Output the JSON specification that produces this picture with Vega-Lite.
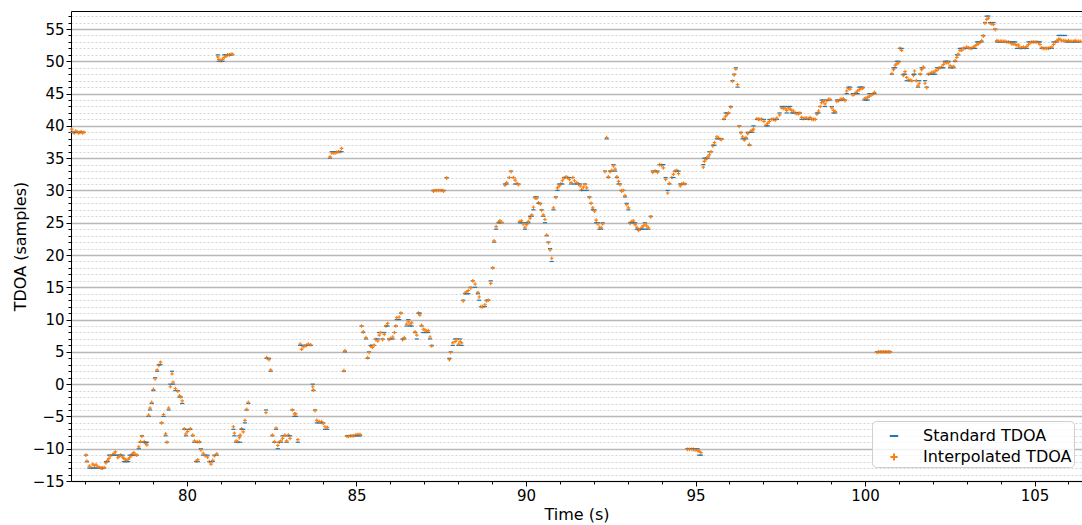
{
"$schema": "https://vega.github.io/schema/vega-lite/v6.json",
"width": 1011, "height": 470,
"autosize": {"type": "none"},
"padding": {"left": 71, "top": 11, "right": 0, "bottom": 44},
"background": "white",
"config": {
 "font": "DejaVu Sans",
 "view": {"stroke": null},
 "axis": {"labelFont": "DejaVu Sans", "labelFontSize": 15, "labelColor": "black", "titleFont": "DejaVu Sans", "titleFontSize": 16, "titleFontWeight": "normal", "titleColor": "black", "tickColor": "black", "domainColor": "black", "tickWidth": 1, "domainWidth": 1},
 "legend": {"labelFont": "DejaVu Sans"}
},
"data": {"values": [
{"t":76.60,"s":39,"i":39.5},{"t":76.64,"s":39,"i":39.0},{"t":76.68,"s":39,"i":38.9},{"t":76.72,"s":39,"i":39.2},{"t":76.76,"s":39,"i":39.1},{"t":76.80,"s":39,"i":38.9},{"t":76.84,"s":39,"i":39.0},{"t":76.88,"s":39,"i":39.1},{"t":76.92,"s":39,"i":38.9},{"t":76.96,"s":39,"i":39.0},
{"t":77.02,"s":-11,"i":-11.0},{"t":77.05,"s":-12,"i":-11.9},{"t":77.12,"s":-13,"i":-12.7},{"t":77.17,"s":-13,"i":-12.9},{"t":77.22,"s":-13,"i":-12.4},{"t":77.27,"s":-13,"i":-12.6},{"t":77.32,"s":-13,"i":-12.5},{"t":77.37,"s":-13,"i":-12.8},{"t":77.42,"s":-13,"i":-12.9},{"t":77.47,"s":-13,"i":-13.0},{"t":77.51,"s":-13,"i":-13.0},{"t":77.56,"s":-13,"i":-12.9},{"t":77.61,"s":-12,"i":-12.2},{"t":77.66,"s":-12,"i":-11.8},{"t":77.70,"s":-11,"i":-11.5},{"t":77.74,"s":-11,"i":-11.1},{"t":77.81,"s":-11,"i":-10.9},{"t":77.85,"s":-11,"i":-10.7},{"t":77.89,"s":-11,"i":-10.5},{"t":77.96,"s":-11,"i":-11.4},{"t":78.00,"s":-11,"i":-11.2},{"t":78.04,"s":-11,"i":-11.0},{"t":78.10,"s":-11,"i":-11.3},{"t":78.14,"s":-12,"i":-11.5},{"t":78.18,"s":-12,"i":-11.7},{"t":78.22,"s":-12,"i":-11.8},{"t":78.27,"s":-12,"i":-11.6},{"t":78.31,"s":-11,"i":-11.4},{"t":78.35,"s":-11,"i":-11.1},{"t":78.39,"s":-11,"i":-10.8},{"t":78.43,"s":-11,"i":-10.6},{"t":78.47,"s":-11,"i":-10.9},{"t":78.52,"s":-11,"i":-11.0},{"t":78.58,"s":-10,"i":-9.7},{"t":78.63,"s":-9,"i":-8.9},{"t":78.67,"s":-8,"i":-8.1},{"t":78.74,"s":-9,"i":-8.9},{"t":78.78,"s":-9,"i":-9.2},{"t":78.82,"s":-9,"i":-9.4},{"t":78.87,"s":-5,"i":-4.8},{"t":78.91,"s":-4,"i":-3.7},{"t":78.96,"s":-3,"i":-2.8},{"t":79.01,"s":-1,"i":-0.8},{"t":79.06,"s":1,"i":0.8},{"t":79.12,"s":2,"i":2.2},{"t":79.17,"s":3,"i":2.9},{"t":79.22,"s":3,"i":3.4},{"t":79.25,"s":-6,"i":-6.0},{"t":79.31,"s":-5,"i":-4.7},{"t":79.37,"s":-8,"i":-7.7},{"t":79.41,"s":-9,"i":-9.0},{"t":79.46,"s":-4,"i":-3.7},{"t":79.51,"s":0,"i":-0.4},{"t":79.56,"s":2,"i":1.6},{"t":79.59,"s":0,"i":0.3},{"t":79.66,"s":-1,"i":-0.7},{"t":79.73,"s":-1,"i":-1.1},{"t":79.78,"s":-2,"i":-1.8},{"t":79.82,"s":-2,"i":-2.0},{"t":79.86,"s":-3,"i":-2.6},{"t":79.92,"s":-7,"i":-6.9},{"t":79.97,"s":-8,"i":-7.7},{"t":80.02,"s":-7,"i":-7.3},{"t":80.10,"s":-7,"i":-6.9},{"t":80.17,"s":-8,"i":-7.9},{"t":80.22,"s":-9,"i":-8.8},{"t":80.27,"s":-12,"i":-11.9},{"t":80.30,"s":-9,"i":-8.9},{"t":80.32,"s":-12,"i":-11.7},{"t":80.37,"s":-9,"i":-8.9},{"t":80.41,"s":-10,"i":-10.2},{"t":80.48,"s":-11,"i":-10.7},{"t":80.54,"s":-11,"i":-11.1},{"t":80.61,"s":-11,"i":-11.3},{"t":80.66,"s":-12,"i":-12.0},{"t":80.71,"s":-12,"i":-12.4},{"t":80.76,"s":-12,"i":-11.8},{"t":80.81,"s":-11,"i":-11.1},{"t":80.88,"s":-11,"i":-10.8},
{"t":80.91,"s":51,"i":50.7},{"t":80.94,"s":50,"i":50.3},{"t":81.00,"s":50,"i":50.1},{"t":81.05,"s":50,"i":50.3},{"t":81.10,"s":51,"i":50.6},{"t":81.15,"s":51,"i":50.8},{"t":81.20,"s":51,"i":51.0},{"t":81.25,"s":51,"i":51.0},{"t":81.30,"s":51,"i":51.1},{"t":81.34,"s":51,"i":51.1},
{"t":81.37,"s":-7,"i":-6.6},{"t":81.40,"s":-8,"i":-7.6},{"t":81.45,"s":-9,"i":-8.8},{"t":81.50,"s":-9,"i":-8.9},{"t":81.55,"s":-8,"i":-8.3},{"t":81.57,"s":-9,"i":-7.9},{"t":81.61,"s":-7,"i":-6.9},{"t":81.66,"s":-7,"i":-7.4},{"t":81.71,"s":-6,"i":-5.6},{"t":81.76,"s":-4,"i":-3.9},{"t":81.81,"s":-3,"i":-2.8},
{"t":82.33,"s":-4,"i":-4.4},{"t":82.35,"s":4,"i":4.1},{"t":82.42,"s":4,"i":3.8},{"t":82.47,"s":2,"i":2.2},{"t":82.52,"s":-8,"i":-7.9},{"t":82.58,"s":-9,"i":-8.9},{"t":82.63,"s":-7,"i":-6.8},{"t":82.68,"s":-10,"i":-9.5},{"t":82.72,"s":-9,"i":-9.0},{"t":82.77,"s":-9,"i":-8.8},{"t":82.82,"s":-8,"i":-8.4},{"t":82.89,"s":-8,"i":-7.9},{"t":82.94,"s":-9,"i":-8.8},{"t":82.99,"s":-8,"i":-7.9},{"t":83.04,"s":-8,"i":-8.4},{"t":83.11,"s":-4,"i":-4.0},{"t":83.17,"s":-5,"i":-4.6},{"t":83.21,"s":-5,"i":-4.6},{"t":83.27,"s":-9,"i":-8.6},
{"t":83.34,"s":6,"i":6.2},{"t":83.38,"s":6,"i":5.4},{"t":83.43,"s":6,"i":5.8},{"t":83.48,"s":6,"i":5.9},{"t":83.53,"s":6,"i":6.0},{"t":83.58,"s":6,"i":6.2},{"t":83.65,"s":6,"i":6.1},{"t":83.71,"s":0,"i":-0.4},{"t":83.73,"s":-1,"i":-0.9},{"t":83.78,"s":-4,"i":-4.1},{"t":83.83,"s":-6,"i":-5.6},{"t":83.90,"s":-6,"i":-5.8},{"t":83.97,"s":-6,"i":-5.8},{"t":84.02,"s":-6,"i":-6.1},{"t":84.07,"s":-7,"i":-6.6},{"t":84.14,"s":-7,"i":-6.7},
{"t":84.22,"s":35,"i":35.2},{"t":84.27,"s":36,"i":35.8},{"t":84.32,"s":36,"i":35.8},{"t":84.37,"s":36,"i":35.8},{"t":84.42,"s":36,"i":35.9},{"t":84.47,"s":36,"i":36.0},{"t":84.52,"s":36,"i":36.0},{"t":84.56,"s":36,"i":36.5},
{"t":84.63,"s":2,"i":2.1},{"t":84.66,"s":5,"i":5.2},{"t":84.72,"s":-8,"i":-8.1},{"t":84.77,"s":-8,"i":-8.1},{"t":84.82,"s":-8,"i":-8.0},{"t":84.87,"s":-8,"i":-8.0},{"t":84.92,"s":-8,"i":-8.0},{"t":84.97,"s":-8,"i":-7.9},{"t":85.02,"s":-8,"i":-7.8},{"t":85.07,"s":-8,"i":-7.8},{"t":85.11,"s":-8,"i":-7.8},
{"t":85.15,"s":9,"i":9.0},{"t":85.20,"s":8,"i":8.1},{"t":85.28,"s":7,"i":7.2},{"t":85.33,"s":4,"i":4.1},{"t":85.37,"s":5,"i":4.9},{"t":85.42,"s":6,"i":5.9},{"t":85.47,"s":6,"i":5.7},{"t":85.52,"s":6,"i":6.0},{"t":85.57,"s":7,"i":6.9},{"t":85.63,"s":7,"i":6.7},{"t":85.67,"s":8,"i":7.6},{"t":85.72,"s":8,"i":8.0},{"t":85.77,"s":7,"i":6.9},{"t":85.82,"s":8,"i":7.7},{"t":85.87,"s":9,"i":9.0},{"t":85.92,"s":9,"i":9.4},{"t":85.96,"s":7,"i":6.9},{"t":86.01,"s":7,"i":7.1},{"t":86.07,"s":7,"i":7.3},{"t":86.12,"s":8,"i":8.0},{"t":86.16,"s":9,"i":9.0},{"t":86.19,"s":10,"i":10.3},{"t":86.26,"s":10,"i":10.4},{"t":86.31,"s":11,"i":11.0},{"t":86.36,"s":7,"i":6.9},{"t":86.41,"s":7,"i":7.2},{"t":86.48,"s":9,"i":9.3},{"t":86.53,"s":10,"i":9.7},{"t":86.58,"s":9,"i":9.3},{"t":86.63,"s":9,"i":9.5},{"t":86.73,"s":8,"i":8.1},{"t":86.78,"s":7,"i":7.6},{"t":86.83,"s":11,"i":11.0},{"t":86.87,"s":11,"i":10.7},{"t":86.92,"s":9,"i":9.1},{"t":86.97,"s":8,"i":8.5},{"t":87.02,"s":8,"i":8.4},{"t":87.07,"s":8,"i":8.2},{"t":87.12,"s":8,"i":8.3},{"t":87.17,"s":7,"i":7.3},{"t":87.22,"s":6,"i":5.9},
{"t":87.27,"s":30,"i":29.9},{"t":87.32,"s":30,"i":30.0},{"t":87.37,"s":30,"i":30.0},{"t":87.42,"s":30,"i":30.0},{"t":87.47,"s":30,"i":30.0},{"t":87.52,"s":30,"i":30.0},{"t":87.57,"s":30,"i":29.9},{"t":87.66,"s":32,"i":31.9},
{"t":87.74,"s":4,"i":3.8},{"t":87.78,"s":5,"i":4.9},{"t":87.84,"s":6,"i":6.4},{"t":87.91,"s":7,"i":6.6},{"t":87.96,"s":7,"i":6.9},{"t":88.01,"s":6,"i":6.2},{"t":88.06,"s":7,"i":6.6},{"t":88.10,"s":6,"i":6.4},
{"t":88.15,"s":13,"i":12.9},{"t":88.20,"s":14,"i":14.1},{"t":88.25,"s":14,"i":14.3},{"t":88.30,"s":14,"i":14.5},{"t":88.37,"s":15,"i":14.9},{"t":88.43,"s":16,"i":16.0},{"t":88.50,"s":15,"i":15.5},{"t":88.58,"s":14,"i":14.2},{"t":88.62,"s":13,"i":13.5},{"t":88.67,"s":12,"i":12.0},{"t":88.72,"s":12,"i":12.0},{"t":88.79,"s":12,"i":12.3},{"t":88.84,"s":13,"i":12.9},{"t":88.89,"s":13,"i":13.0},{"t":88.96,"s":16,"i":15.6},{"t":89.02,"s":18,"i":18.0},{"t":89.06,"s":22,"i":22.2},{"t":89.12,"s":24,"i":24.4},{"t":89.19,"s":25,"i":25.1},{"t":89.23,"s":25,"i":25.3},{"t":89.28,"s":25,"i":25.1},
{"t":89.38,"s":31,"i":30.8},{"t":89.43,"s":31,"i":31.2},{"t":89.51,"s":32,"i":32.0},{"t":89.56,"s":33,"i":32.9},{"t":89.63,"s":32,"i":32.0},{"t":89.68,"s":31,"i":31.6},{"t":89.73,"s":31,"i":31.1},{"t":89.78,"s":31,"i":30.9},
{"t":89.82,"s":25,"i":25.2},{"t":89.87,"s":25,"i":25.3},{"t":89.92,"s":25,"i":24.8},{"t":89.97,"s":24,"i":24.3},{"t":90.02,"s":25,"i":24.7},{"t":90.07,"s":25,"i":25.2},{"t":90.12,"s":26,"i":25.7},{"t":90.17,"s":26,"i":26.2},{"t":90.22,"s":27,"i":27.4},{"t":90.27,"s":29,"i":28.8},{"t":90.32,"s":29,"i":28.8},{"t":90.37,"s":28,"i":28.1},{"t":90.42,"s":28,"i":27.9},{"t":90.46,"s":27,"i":26.9},{"t":90.51,"s":26,"i":26.2},{"t":90.56,"s":25,"i":25.5},{"t":90.61,"s":23,"i":23.1},{"t":90.66,"s":22,"i":21.9},{"t":90.71,"s":21,"i":20.8},{"t":90.76,"s":19,"i":19.5},
{"t":90.81,"s":27,"i":27.3},{"t":90.88,"s":29,"i":28.9},{"t":90.93,"s":30,"i":30.4},{"t":90.98,"s":31,"i":30.7},{"t":91.02,"s":31,"i":31.0},{"t":91.07,"s":31,"i":31.5},{"t":91.12,"s":32,"i":31.9},{"t":91.18,"s":32,"i":32.1},{"t":91.23,"s":32,"i":32.0},{"t":91.28,"s":32,"i":31.7},{"t":91.33,"s":31,"i":31.2},{"t":91.38,"s":32,"i":32.0},{"t":91.43,"s":31,"i":31.5},{"t":91.50,"s":31,"i":31.2},{"t":91.55,"s":31,"i":31.0},{"t":91.60,"s":31,"i":30.7},{"t":91.64,"s":30,"i":30.1},{"t":91.69,"s":30,"i":30.5},{"t":91.74,"s":31,"i":30.9},{"t":91.79,"s":30,"i":30.4},{"t":91.87,"s":29,"i":28.9},{"t":91.92,"s":28,"i":28.0},{"t":91.97,"s":27,"i":27.3},{"t":92.02,"s":27,"i":26.8},{"t":92.07,"s":25,"i":25.4},{"t":92.12,"s":25,"i":24.8},{"t":92.17,"s":24,"i":24.3},{"t":92.22,"s":24,"i":24.2},{"t":92.26,"s":25,"i":24.8},
{"t":92.33,"s":33,"i":32.9},{"t":92.38,"s":38,"i":38.2},{"t":92.43,"s":32,"i":32.1},{"t":92.48,"s":33,"i":32.9},{"t":92.53,"s":33,"i":33.1},{"t":92.58,"s":34,"i":33.8},{"t":92.63,"s":33,"i":33.3},{"t":92.68,"s":32,"i":32.1},{"t":92.73,"s":31,"i":31.4},{"t":92.77,"s":31,"i":30.9},{"t":92.82,"s":30,"i":29.9},{"t":92.87,"s":30,"i":30.0},{"t":92.92,"s":29,"i":29.2},{"t":92.97,"s":28,"i":27.8},{"t":93.02,"s":27,"i":27.3},{"t":93.07,"s":25,"i":24.9},{"t":93.12,"s":25,"i":25.2},{"t":93.17,"s":25,"i":25.3},{"t":93.22,"s":25,"i":24.7},{"t":93.27,"s":24,"i":24.3},{"t":93.32,"s":24,"i":23.8},{"t":93.37,"s":24,"i":24.0},{"t":93.42,"s":24,"i":24.3},{"t":93.46,"s":24,"i":24.5},{"t":93.51,"s":25,"i":24.8},{"t":93.56,"s":24,"i":24.5},{"t":93.61,"s":24,"i":24.2},{"t":93.68,"s":26,"i":25.9},
{"t":93.74,"s":33,"i":32.8},{"t":93.81,"s":33,"i":33.0},{"t":93.88,"s":33,"i":32.8},{"t":93.94,"s":34,"i":34.0},{"t":94.00,"s":34,"i":33.9},{"t":94.05,"s":34,"i":33.5},{"t":94.12,"s":32,"i":31.7},{"t":94.18,"s":30,"i":29.6},{"t":94.23,"s":31,"i":31.1},{"t":94.30,"s":32,"i":32.0},{"t":94.35,"s":32,"i":32.5},{"t":94.40,"s":33,"i":33.0},{"t":94.45,"s":33,"i":33.1},{"t":94.50,"s":33,"i":32.6},{"t":94.55,"s":31,"i":30.7},{"t":94.59,"s":31,"i":31.0},{"t":94.64,"s":31,"i":31.1},{"t":94.69,"s":31,"i":31.0},
{"t":94.76,"s":-10,"i":-10.1},{"t":94.82,"s":-10,"i":-10.1},{"t":94.89,"s":-10,"i":-10.1},{"t":94.94,"s":-10,"i":-10.1},{"t":94.99,"s":-10,"i":-10.2},{"t":95.06,"s":-10,"i":-10.3},{"t":95.11,"s":-11,"i":-10.4},{"t":95.16,"s":-11,"i":-10.6},
{"t":95.23,"s":34,"i":33.6},{"t":95.26,"s":35,"i":34.5},{"t":95.31,"s":35,"i":34.8},{"t":95.36,"s":35,"i":35.2},{"t":95.41,"s":36,"i":35.5},{"t":95.46,"s":36,"i":36.0},{"t":95.51,"s":37,"i":36.9},{"t":95.56,"s":37,"i":37.4},{"t":95.63,"s":38,"i":38.3},{"t":95.68,"s":38,"i":38.1},{"t":95.73,"s":38,"i":37.9},{"t":95.77,"s":38,"i":37.9},{"t":95.84,"s":41,"i":41.1},{"t":95.89,"s":42,"i":41.5},{"t":95.94,"s":42,"i":41.8},{"t":95.97,"s":42,"i":42.0},{"t":96.04,"s":43,"i":42.9},{"t":96.09,"s":47,"i":46.9},{"t":96.14,"s":48,"i":47.9},{"t":96.19,"s":49,"i":48.8},{"t":96.24,"s":46,"i":46.4},{"t":96.29,"s":40,"i":39.9},{"t":96.34,"s":39,"i":38.9},{"t":96.39,"s":38,"i":38.3},{"t":96.44,"s":38,"i":37.8},{"t":96.49,"s":38,"i":38.2},{"t":96.54,"s":39,"i":38.8},{"t":96.59,"s":37,"i":37.1},{"t":96.63,"s":39,"i":39.2},{"t":96.68,"s":39,"i":39.3},{"t":96.71,"s":40,"i":39.5},
{"t":96.81,"s":41,"i":41.1},{"t":96.86,"s":41,"i":41.0},{"t":96.90,"s":41,"i":41.0},{"t":96.95,"s":41,"i":41.0},{"t":97.02,"s":41,"i":40.7},{"t":97.08,"s":40,"i":40.1},{"t":97.13,"s":40,"i":40.4},{"t":97.18,"s":41,"i":40.7},{"t":97.25,"s":41,"i":41.0},{"t":97.30,"s":41,"i":41.0},{"t":97.35,"s":41,"i":40.9},{"t":97.40,"s":41,"i":41.2},{"t":97.48,"s":42,"i":41.7},{"t":97.54,"s":43,"i":42.8},{"t":97.59,"s":43,"i":42.7},{"t":97.64,"s":43,"i":42.7},{"t":97.69,"s":42,"i":42.4},{"t":97.74,"s":43,"i":42.8},{"t":97.79,"s":43,"i":42.6},{"t":97.84,"s":42,"i":42.4},{"t":97.89,"s":42,"i":42.3},{"t":97.94,"s":42,"i":42.0},{"t":97.99,"s":42,"i":41.9},{"t":98.04,"s":42,"i":41.9},{"t":98.08,"s":42,"i":42.0},{"t":98.13,"s":41,"i":41.3},{"t":98.18,"s":41,"i":41.1},{"t":98.23,"s":41,"i":41.2},{"t":98.28,"s":41,"i":41.2},{"t":98.33,"s":41,"i":41.1},{"t":98.38,"s":41,"i":41.3},{"t":98.43,"s":41,"i":41.0},{"t":98.48,"s":41,"i":41.0},{"t":98.53,"s":41,"i":41.0},{"t":98.58,"s":42,"i":41.8},{"t":98.63,"s":42,"i":42.3},{"t":98.68,"s":43,"i":43.0},{"t":98.72,"s":44,"i":43.6},{"t":98.77,"s":44,"i":43.8},{"t":98.82,"s":43,"i":43.4},{"t":98.87,"s":44,"i":43.9},{"t":98.92,"s":44,"i":44.1},{"t":98.97,"s":44,"i":44.1},{"t":99.02,"s":43,"i":42.8},{"t":99.07,"s":42,"i":42.4},{"t":99.12,"s":42,"i":42.2},{"t":99.17,"s":44,"i":43.8},{"t":99.22,"s":44,"i":43.9},{"t":99.27,"s":44,"i":44.1},{"t":99.31,"s":44,"i":44.1},{"t":99.36,"s":44,"i":44.2},{"t":99.41,"s":44,"i":43.9},{"t":99.46,"s":45,"i":45.4},{"t":99.51,"s":46,"i":45.8},{"t":99.56,"s":46,"i":45.7},{"t":99.64,"s":45,"i":44.8},{"t":99.68,"s":45,"i":44.9},{"t":99.74,"s":45,"i":45.2},{"t":99.78,"s":45,"i":45.4},{"t":99.83,"s":46,"i":45.6},{"t":99.88,"s":46,"i":45.8},{"t":99.93,"s":46,"i":45.8},{"t":99.98,"s":44,"i":44.2},{"t":100.03,"s":44,"i":44.3},{"t":100.08,"s":44,"i":44.4},{"t":100.13,"s":45,"i":44.6},{"t":100.18,"s":45,"i":44.8},{"t":100.23,"s":45,"i":44.9},{"t":100.28,"s":45,"i":45.2},
{"t":100.35,"s":5,"i":4.9},{"t":100.40,"s":5,"i":5.0},{"t":100.45,"s":5,"i":5.0},{"t":100.50,"s":5,"i":5.0},{"t":100.55,"s":5,"i":5.0},{"t":100.60,"s":5,"i":5.0},{"t":100.65,"s":5,"i":5.0},{"t":100.70,"s":5,"i":5.0},{"t":100.74,"s":5,"i":5.0},
{"t":100.79,"s":48,"i":48.1},{"t":100.84,"s":49,"i":48.7},{"t":100.89,"s":49,"i":49.4},{"t":100.94,"s":50,"i":49.6},{"t":100.99,"s":50,"i":49.8},{"t":101.03,"s":52,"i":52.0},{"t":101.08,"s":52,"i":51.7},{"t":101.13,"s":48,"i":47.8},{"t":101.18,"s":48,"i":48.4},{"t":101.23,"s":47,"i":47.5},{"t":101.28,"s":47,"i":47.1},{"t":101.33,"s":47,"i":47.1},{"t":101.38,"s":47,"i":47.0},{"t":101.43,"s":48,"i":47.8},{"t":101.46,"s":48,"i":48.5},{"t":101.51,"s":47,"i":47.0},{"t":101.56,"s":46,"i":46.2},{"t":101.60,"s":47,"i":46.6},{"t":101.63,"s":48,"i":48.0},{"t":101.67,"s":49,"i":48.7},{"t":101.72,"s":49,"i":49.1},{"t":101.77,"s":47,"i":46.6},{"t":101.82,"s":46,"i":45.9},{"t":101.87,"s":48,"i":48.0},{"t":101.92,"s":48,"i":48.1},{"t":101.97,"s":48,"i":48.3},{"t":102.02,"s":48,"i":48.3},{"t":102.07,"s":48,"i":48.5},{"t":102.12,"s":49,"i":48.6},{"t":102.17,"s":49,"i":48.9},{"t":102.21,"s":49,"i":49.0},{"t":102.26,"s":49,"i":49.1},{"t":102.31,"s":49,"i":49.5},{"t":102.36,"s":50,"i":49.8},{"t":102.41,"s":50,"i":49.8},{"t":102.46,"s":50,"i":49.8},{"t":102.51,"s":49,"i":49.3},{"t":102.56,"s":49,"i":49.1},{"t":102.61,"s":49,"i":49.2},{"t":102.66,"s":50,"i":50.1},{"t":102.71,"s":51,"i":50.6},{"t":102.75,"s":51,"i":51.1},{"t":102.80,"s":52,"i":51.7},{"t":102.85,"s":52,"i":51.7},{"t":102.90,"s":52,"i":52.0},{"t":102.95,"s":52,"i":52.0},{"t":103.00,"s":52,"i":52.2},{"t":103.05,"s":52,"i":52.1},{"t":103.10,"s":52,"i":52.0},{"t":103.15,"s":52,"i":52.0},{"t":103.20,"s":52,"i":52.2},{"t":103.25,"s":52,"i":52.4},{"t":103.30,"s":53,"i":52.6},{"t":103.34,"s":53,"i":52.7},{"t":103.39,"s":53,"i":52.9},{"t":103.44,"s":53,"i":53.2},{"t":103.49,"s":54,"i":53.9},{"t":103.54,"s":56,"i":55.9},{"t":103.59,"s":57,"i":56.5},{"t":103.64,"s":57,"i":56.7},{"t":103.69,"s":56,"i":55.9},{"t":103.74,"s":56,"i":55.8},{"t":103.79,"s":56,"i":55.7},{"t":103.84,"s":55,"i":54.9},{"t":103.89,"s":53,"i":53.2},{"t":103.94,"s":53,"i":53.1},{"t":103.99,"s":53,"i":53.1},{"t":104.03,"s":53,"i":53.1},{"t":104.08,"s":53,"i":53.1},{"t":104.13,"s":53,"i":53.1},{"t":104.18,"s":53,"i":53.0},{"t":104.23,"s":53,"i":53.0},{"t":104.28,"s":53,"i":52.9},{"t":104.33,"s":53,"i":52.7},{"t":104.38,"s":53,"i":52.7},{"t":104.43,"s":53,"i":52.6},{"t":104.48,"s":52,"i":52.5},{"t":104.53,"s":52,"i":52.5},{"t":104.57,"s":52,"i":52.1},{"t":104.62,"s":52,"i":52.1},{"t":104.67,"s":52,"i":52.2},{"t":104.72,"s":52,"i":52.1},{"t":104.77,"s":52,"i":52.3},{"t":104.82,"s":53,"i":52.6},{"t":104.87,"s":53,"i":52.9},{"t":104.92,"s":53,"i":53.0},{"t":104.97,"s":53,"i":53.0},{"t":105.02,"s":53,"i":53.0},{"t":105.07,"s":53,"i":53.0},{"t":105.12,"s":53,"i":52.9},{"t":105.16,"s":53,"i":52.6},{"t":105.21,"s":52,"i":52.1},{"t":105.26,"s":52,"i":52.0},{"t":105.31,"s":52,"i":52.0},{"t":105.36,"s":52,"i":52.0},{"t":105.41,"s":52,"i":52.0},{"t":105.46,"s":52,"i":52.1},{"t":105.51,"s":52,"i":52.2},{"t":105.56,"s":53,"i":52.6},{"t":105.61,"s":53,"i":53.0},{"t":105.66,"s":53,"i":53.2},{"t":105.71,"s":54,"i":53.4},{"t":105.75,"s":54,"i":53.4},{"t":105.80,"s":54,"i":53.2},{"t":105.85,"s":54,"i":53.2},{"t":105.90,"s":54,"i":53.2},{"t":105.95,"s":53,"i":53.1},{"t":106.00,"s":53,"i":53.2},{"t":106.05,"s":53,"i":53.1},{"t":106.10,"s":53,"i":53.1},{"t":106.15,"s":53,"i":53.1},{"t":106.20,"s":53,"i":53.2},{"t":106.25,"s":53,"i":53.1},{"t":106.30,"s":53,"i":53.1},{"t":106.35,"s":53,"i":53.1}
]},
"transform": [{"fold": ["s", "i"], "as": ["k", "v"]}],
"layer": [
 {
  "mark": {"type": "point", "opacity": 0},
  "encoding": {
   "x": {"field": "t", "type": "quantitative", "scale": {"domain": [76.58, 106.4], "nice": false, "zero": false},
     "axis": {"orient": "bottom", "values": [77,78,79,81,82,83,84,86,87,88,89,91,92,93,94,96,97,98,99,101,102,103,104,106], "labels": false, "ticks": true, "tickSize": 3, "grid": false, "domain": false, "title": null}},
   "y": {"field": "v", "type": "quantitative", "scale": {"domain": [-15, 57.79], "nice": false, "zero": false},
     "axis": {"orient": "left", "values": [-14,-13,-12,-11,-9,-8,-7,-6,-4,-3,-2,-1,1,2,3,4,6,7,8,9,11,12,13,14,16,17,18,19,21,22,23,24,26,27,28,29,31,32,33,34,36,37,38,39,41,42,43,44,46,47,48,49,51,52,53,54,56,57], "labels": false, "tickSize": 3, "grid": true, "gridColor": "#d4d4d4", "gridDash": [2, 2], "gridWidth": 1, "domain": false, "title": null}}
  }
 },
 {
  "mark": {"type": "point", "opacity": 0},
  "encoding": {
   "x": {"field": "t", "type": "quantitative", "scale": {"domain": [76.58, 106.4], "nice": false, "zero": false},
     "axis": {"orient": "top", "labels": false, "ticks": false, "grid": false, "domain": true, "title": null}},
   "y": {"field": "v", "type": "quantitative", "axis": null}
  }
 },
 {
  "mark": {"type": "point", "filled": false, "size": 144, "strokeWidth": 1.2, "opacity": 1},
  "encoding": {
   "x": {"field": "t", "type": "quantitative", "scale": {"domain": [76.58, 106.4], "nice": false, "zero": false},
     "axis": {"orient": "bottom", "values": [80, 85, 90, 95, 100, 105], "tickSize": 5, "labelPadding": 2, "grid": false, "domain": true, "title": "Time (s)", "titlePadding": 3}},
   "y": {"field": "v", "type": "quantitative", "scale": {"domain": [-15, 57.79], "nice": false, "zero": false},
     "axis": {"orient": "left", "values": [-15,-10,-5,0,5,10,15,20,25,30,35,40,45,50,55], "tickSize": 5, "labelPadding": 2, "grid": true, "gridColor": "#b8b8b8", "gridWidth": 1.3, "domain": true, "title": "TDOA (samples)", "titlePadding": 4, "labelExpr": "replace(datum.label, '-', '−')"}},
   "color": {"field": "k", "type": "nominal", "sort": ["s", "i"], "scale": {"domain": ["s", "i"], "range": ["#1f77b4", "#ff7f0e"]},
     "legend": {"title": null, "orient": "none", "legendX": 801, "legendY": 410, "labelExpr": "datum.label == 's' ? 'Standard TDOA' : 'Interpolated TDOA'", "labelFontSize": 16, "labelColor": "black", "symbolSize": 576, "symbolStrokeWidth": 2, "padding": 2, "symbolOffset": 7, "labelOffset": 16, "rowPadding": 0, "strokeColor": "#d0d0d0", "fillColor": "rgba(255,255,255,0.8)", "cornerRadius": 4}},
   "shape": {"field": "k", "type": "nominal", "scale": {"domain": ["s", "i"], "range": ["M-0.35,0H0.35", "M-0.3,0H0.3M0,-0.3V0.3"]}, "legend": {"title": null}}
  }
 }
],
"resolve": {"axis": {"x": "independent", "y": "independent"}}
}
